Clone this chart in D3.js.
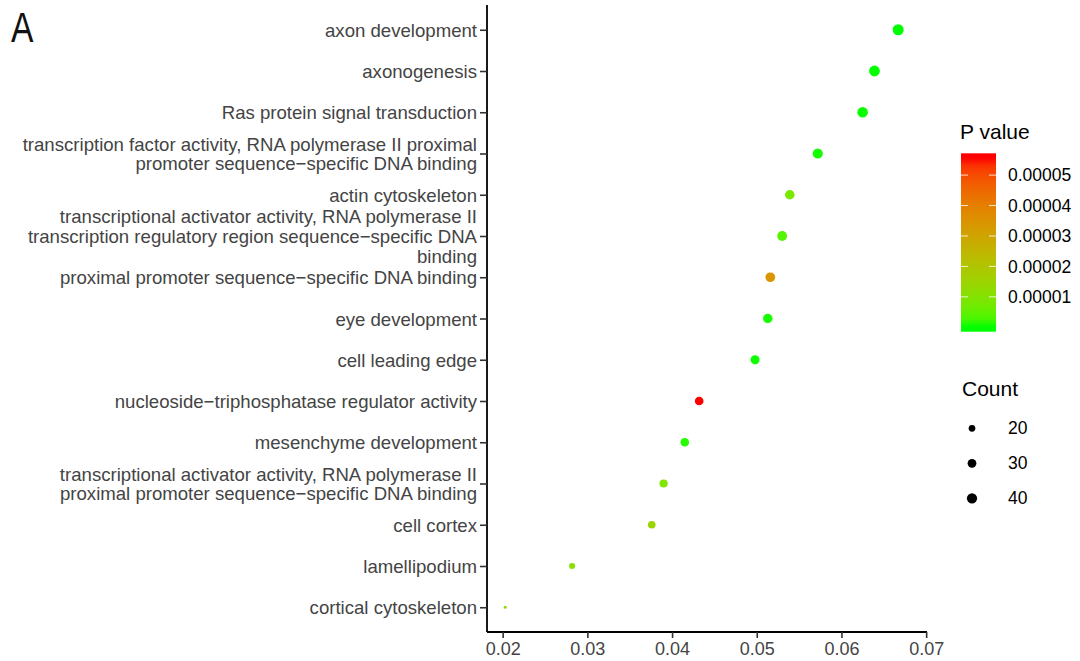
<!DOCTYPE html>
<html>
<head>
<meta charset="utf-8">
<script src="https://cdn.jsdelivr.net/npm/d3@7"></script>
<style>
  html, body { margin: 0; padding: 0; background: #fff; }
  svg { display: block; }
  text { font-family: "Liberation Sans", Arial, sans-serif; }
</style>
</head>
<body>
<svg id="chart" width="1080" height="661"></svg>
<script>
// GO terms, top to bottom ("\n" marks a wrapped line)
const terms = [
  "axon development",
  "axonogenesis",
  "Ras protein signal transduction",
  "transcription factor activity, RNA polymerase II proximal\npromoter sequence\u2212specific DNA binding",
  "actin cytoskeleton",
  "transcriptional activator activity, RNA polymerase II\ntranscription regulatory region sequence\u2212specific DNA\nbinding",
  "proximal promoter sequence\u2212specific DNA binding",
  "eye development",
  "cell leading edge",
  "nucleoside\u2212triphosphatase regulator activity",
  "mesenchyme development",
  "transcriptional activator activity, RNA polymerase II\nproximal promoter sequence\u2212specific DNA binding",
  "cell cortex",
  "lamellipodium",
  "cortical cytoskeleton"
];
// Gene ratio (x position)
const geneRatio = [0.0667, 0.0639, 0.0625, 0.0572, 0.0539, 0.0530, 0.0516, 0.0513,
                   0.0498, 0.0432, 0.0415, 0.0390, 0.0376, 0.0282, 0.0203];
// Gene count (dot size)
const geneCount = [46, 44, 43, 40, 35, 37, 36, 35, 32, 30, 29, 27, 24, 18, 13];
// P value (dot colour)
const pValue = [1.0e-8, 5.0e-8, 1.5e-7, 3.0e-7, 0.8e-5, 0.4e-5, 3.4e-5, 4.0e-7,
                2.0e-7, 5.57e-5, 8.0e-7, 0.9e-5, 1.5e-5, 1.2e-5, 1.3e-5];
// Axis and legend ticks
const xTicks = [0.02, 0.03, 0.04, 0.05, 0.06, 0.07];
const sizeBreaks = [20, 30, 40];

const svg = d3.select("#chart");
svg.append("rect").attr("width", 1080).attr("height", 661).attr("fill", "#fff");

const plot = { left: 487, right: 927, top: 5, bottom: 632 };

const x = d3.scaleLinear().domain([0.01815, 0.0701]).range([plot.left, plot.right]);
const y = d3.scalePoint().domain(terms).range([plot.top, plot.bottom]).padding(0.6);

const pExtent = d3.extent(pValue);
const color = d3.scaleLinear().domain(pExtent).range(["#00ff00", "#ff0000"])
  .interpolate(d3.interpolateLab);

// area-proportional size scale between the smallest and largest count
const countNorm = d3.scaleLinear().domain(d3.extent(geneCount)).range([0, 1]);
const rMin = 1.5, rMax = 5.5;
const radius = c => rMin + (rMax - rMin) * Math.sqrt(Math.max(0, countNorm(c)));

// panel tag
svg.append("text")
  .attr("transform", "translate(11,42) scale(0.8,1)")
  .attr("font-size", 42)
  .attr("fill", "#111")
  .text("A");

// y axis
const yAxis = svg.append("g").attr("transform", `translate(${plot.left},0)`)
  .call(d3.axisLeft(y).tickSize(7).tickPadding(3).tickFormat(() => ""));
yAxis.select(".domain").attr("d", `M0,${plot.top}V${plot.bottom}`)
  .attr("stroke", "#000").attr("stroke-width", 1.8);
yAxis.selectAll(".tick line").attr("stroke", "#333").attr("stroke-width", 1.6);

// wrapped category labels
const lineH = 19.7;
yAxis.selectAll(".tick").each(function (d) {
  const lines = d.split("\n");
  const t = d3.select(this).append("text")
    .attr("x", -10)
    .attr("text-anchor", "end")
    .attr("fill", "#444")
    .attr("font-size", 18.6);
  lines.forEach((ln, i) => {
    t.append("tspan")
      .attr("x", -10)
      .attr("y", (i - (lines.length - 1) / 2) * lineH)
      .attr("dy", "0.35em")
      .text(ln);
  });
});

// x axis
const xAxis = svg.append("g").attr("transform", `translate(0,${plot.bottom})`)
  .call(d3.axisBottom(x).tickValues(xTicks).tickSize(6).tickPadding(4)
    .tickFormat(d3.format(".2f")));
xAxis.select(".domain").attr("d", `M${plot.left},0H${plot.right}`)
  .attr("stroke", "#000").attr("stroke-width", 1.8);
xAxis.selectAll(".tick line").attr("stroke", "#333").attr("stroke-width", 1.6);
xAxis.selectAll(".tick text")
  .attr("font-size", 18).attr("fill", "#444")
  .attr("font-family", "Liberation Sans, Arial, sans-serif");

// points
const rows = terms.map((t, i) => ({ term: t, ratio: geneRatio[i], count: geneCount[i], p: pValue[i] }));
svg.append("g").selectAll("circle").data(rows).join("circle")
  .attr("cx", d => x(d.ratio))
  .attr("cy", d => y(d.term))
  .attr("r", d => radius(d.count))
  .attr("fill", d => color(d.p));

// colour bar legend
const bar = { x: 961, y: 153.3, w: 35, h: 178.4 };
const binH = bar.h / 20;
const barScale = d3.scaleLinear().domain(pExtent)
  .range([bar.y + bar.h - binH / 2, bar.y + binH / 2]);

svg.append("text").attr("x", 960).attr("y", 139)
  .attr("font-size", 21).attr("fill", "#000").text("P value");

const grad = svg.append("defs").append("linearGradient")
  .attr("id", "pgrad").attr("x1", 0).attr("y1", 1).attr("x2", 0).attr("y2", 0);
d3.range(0, 21).forEach(i => {
  const v = pExtent[0] + (pExtent[1] - pExtent[0]) * i / 20;
  const off = (bar.y + bar.h - barScale(v)) / bar.h;
  grad.append("stop").attr("offset", off).attr("stop-color", color(v));
});
svg.append("rect").attr("x", bar.x).attr("y", bar.y)
  .attr("width", bar.w).attr("height", bar.h).attr("fill", "url(#pgrad)");

const pTicks = barScale.ticks(5).filter(v => v > pExtent[0] && v < pExtent[1]);
const pt = svg.append("g").selectAll("g").data(pTicks).join("g")
  .attr("transform", d => `translate(0,${barScale(d)})`);
pt.append("line").attr("x1", bar.x).attr("x2", bar.x + 7)
  .attr("stroke", "#fff").attr("stroke-opacity", 0.8).attr("stroke-width", 1);
pt.append("line").attr("x1", bar.x + bar.w - 7).attr("x2", bar.x + bar.w)
  .attr("stroke", "#fff").attr("stroke-opacity", 0.8).attr("stroke-width", 1);
pt.append("text").attr("x", 1008).attr("dy", "0.35em")
  .attr("font-size", 17.5).attr("fill", "#000")
  .text(d3.format(".5f"));

// size legend
svg.append("text").attr("x", 962).attr("y", 396)
  .attr("font-size", 21).attr("fill", "#000").text("Count");
const sizeY = d3.scalePoint().domain(sizeBreaks).range([428.3, 498.3]);
const sl = svg.append("g").selectAll("g").data(sizeBreaks).join("g")
  .attr("transform", d => `translate(0,${sizeY(d)})`);
sl.append("circle").attr("cx", 972).attr("r", d => radius(d)).attr("fill", "#000");
sl.append("text").attr("x", 1008).attr("dy", "0.35em")
  .attr("font-size", 17.5).attr("fill", "#000").text(d => d);
</script>
</body>
</html>
